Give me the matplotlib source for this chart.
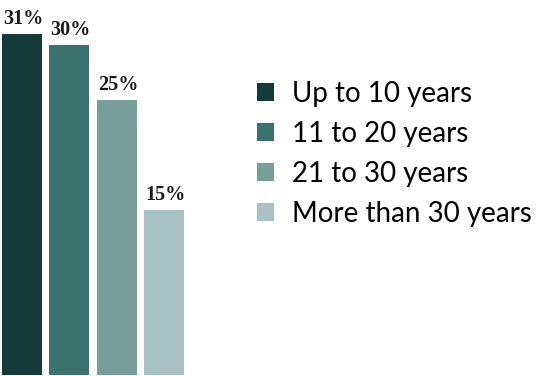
import matplotlib

matplotlib.use("Agg")
import matplotlib.pyplot as plt
from matplotlib.patches import Patch

categories = ["Up to 10 years", "11 to 20 years", "21 to 30 years", "More than 30 years"]
shares = [31, 30, 25, 15]
colors = ["#143a3a", "#3b716f", "#789e9a", "#a8c1c2"]

W, H = 539, 376
fig = plt.figure(figsize=(W / 100, H / 100), dpi=100)

# axes spans the left 200 px; bottom of bars at pixel row 375
ax = fig.add_axes([0, 1 / H, 200 / W, 375 / H])
xs = range(len(shares))
ax.bar(xs, shares, width=0.846, color=colors)
ax.set_xlim(-22 / 47.3, (200 - 22) / 47.3)
ax.set_ylim(0, 375 / 11)
ax.axis("off")

for x, v in zip(xs, shares):
    ax.annotate(f"{v}%", (x, v), xytext=(1, 3.5), textcoords="offset points",
                ha="center", va="bottom", fontsize=14.5, fontweight="bold",
                family="Liberation Serif", color="#1a1a1a")

handles = [Patch(facecolor=c, edgecolor="none") for c in colors]
fig.legend(handles, categories, loc="upper left",
           bbox_to_anchor=(257 / W, 1 - 81 / H), frameon=False,
           prop={"family": "Lato", "size": 20}, handlelength=0.6, handleheight=0.6,
           handletextpad=0.65, labelspacing=0.5, borderpad=0, borderaxespad=0)

fig.savefig("out.png", dpi=100)
